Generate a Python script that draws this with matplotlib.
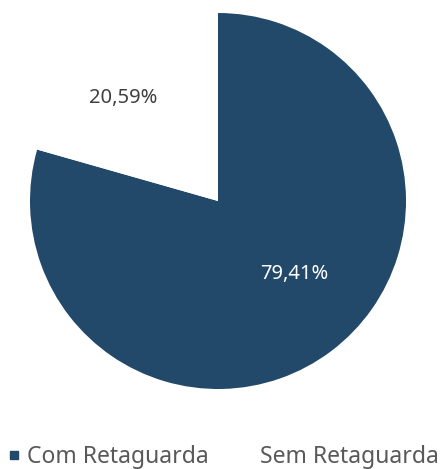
import matplotlib.pyplot as plt
import numpy as np
from matplotlib.lines import Line2D

plt.rcParams['font.family'] = ['Noto Sans', 'DejaVu Sans']

labels = ['Com Retaguarda', 'Sem Retaguarda']
values = [79.41, 20.59]
colors = ['#22496a', '#ffffff']
text_colors = ['#ffffff', '#404040']
label_radius = [0.56, 0.745]
label_shift = [9, 5.5]  # degrees

fig = plt.figure(figsize=(4.44, 4.69), dpi=100)
ax = fig.add_axes([30 / 444, 1 - 389 / 469, 376 / 444, 376 / 469])
wedges, _ = ax.pie(values, colors=colors, startangle=90, counterclock=False,
                   radius=1, wedgeprops=dict(linewidth=0))
ax.set_xlim(-1, 1)
ax.set_ylim(-1, 1)
ax.set_aspect('equal')

for w, v, tc, r, sh in zip(wedges, values, text_colors, label_radius, label_shift):
    mid = np.deg2rad((w.theta1 + w.theta2) / 2 + sh)
    ax.text(r * np.cos(mid), r * np.sin(mid), f'{v:.2f}%'.replace('.', ','),
            ha='center', va='center', fontsize=14.5, color=tc)

handles = [Line2D([], [], marker='s', linestyle='', markersize=6, color=c) for c in colors]
fig.legend(handles, labels, loc='center', bbox_to_anchor=(0.5, 1 - 457 / 469),
           ncol=2, frameon=False, fontsize=16.5, labelcolor='#595959',
           handletextpad=0.15, columnspacing=1.3, handlelength=0.8)

fig.savefig('out.png', dpi=100)
